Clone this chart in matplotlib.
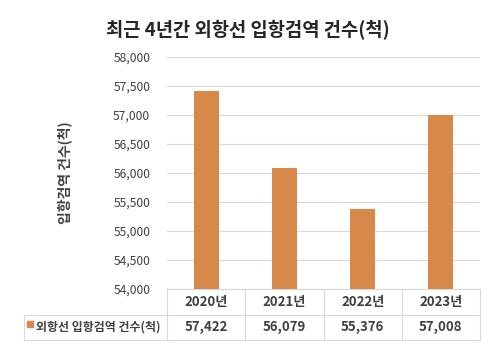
import matplotlib
matplotlib.use("Agg")
import matplotlib.pyplot as plt
from matplotlib.patches import Rectangle
from matplotlib.ticker import FuncFormatter

plt.rcParams['font.family'] = ['Noto Sans CJK KR', 'DejaVu Sans']

# Data
years = ['2020년', '2021년', '2022년', '2023년']
counts = [57422, 56079, 55376, 57008]
series_name = '외항선 입항검역 건수(척)'
title = '최근 4년간 외항선 입항검역 건수(척)'
ylabel = '입항검역 건수(척)'

bar_color = '#D8894A'
text_color = '#404040'
grid_color = '#D9D9D9'

W, H = 500, 353
fig = plt.figure(figsize=(W / 100, H / 100), dpi=100)
ax = fig.add_axes([167 / W, 1 - 289 / H, 313 / W, 232 / H])

x = list(range(len(years)))
ax.bar(x, counts, width=0.32, color=bar_color, zorder=3)
ax.set_xlim(-0.5, len(years) - 0.5)
ax.set_ylim(54000, 58000)
ax.set_yticks(range(54000, 58001, 500))
ax.yaxis.set_major_formatter(FuncFormatter(lambda v, p: f'{int(v):,}'))
ax.tick_params(axis='y', length=0, pad=12, labelsize=8.7, labelcolor=text_color)
ax.set_xticks([])
ax.grid(axis='y', color=grid_color, linewidth=0.8, zorder=0)
for s in ax.spines.values():
    s.set_visible(False)

ax.set_ylabel(ylabel, fontsize=10, color=text_color, fontweight='bold')
ax.yaxis.set_label_coords(-(167 - 72) / 313, 0.5)

fig.text(248 / W, 1 - 30 / H, title, ha='center', va='center',
         fontsize=13.5, fontweight='bold', color='#262626')

# data table under the chart
cell_text = [[''] + years,
             [''] + [f'{v:,}' for v in counts]]
col_w = [143 / 313] + [78.25 / 313] * 4
tbl = ax.table(cellText=cell_text, colWidths=col_w, cellLoc='center',
               bbox=[-143 / 313, -51 / 232, 1 + 143 / 313, 51 / 232])
tbl.auto_set_font_size(False)
for (r, c), cell in tbl.get_celld().items():
    cell.set_edgecolor(grid_color)
    cell.set_linewidth(0.8)
    cell.get_text().set_fontsize(9.5)
    cell.get_text().set_color(text_color)
    cell.get_text().set_fontweight('bold')
    if r == 0 and c == 0:
        cell.visible_edges = ''

# legend key + series name in the first table column
fig.add_artist(Rectangle((27 / W, 1 - 327 / H), 6 / W, 6 / H,
                         transform=fig.transFigure, color=bar_color))
fig.text(36 / W, 1 - 327 / H, series_name, color=text_color, fontsize=8.6,
         fontweight='bold', ha='left', va='center')

fig.savefig('out.png', dpi=100, facecolor='white')
